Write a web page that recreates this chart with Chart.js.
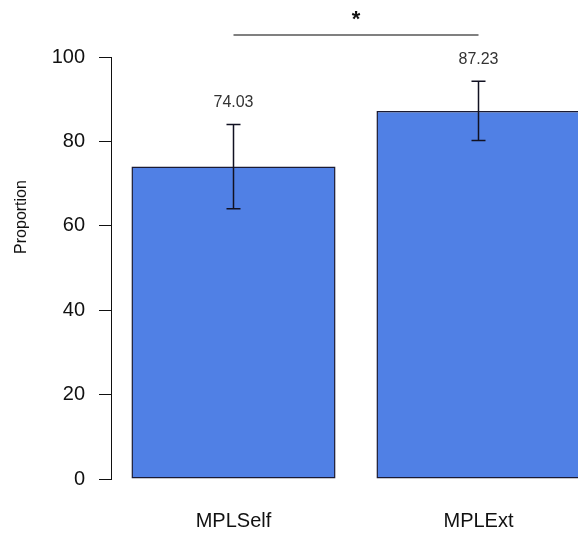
<!DOCTYPE html>
<html>
<head>
<meta charset="utf-8">
<script src="https://cdn.jsdelivr.net/npm/chart.js@4"></script>
<style>
  html, body { margin: 0; padding: 0; background: #fff; overflow: hidden; width: 578px; height: 536px; }
  canvas { display: block; }
</style>
</head>
<body>
<canvas id="c" width="620" height="536"></canvas>
<script>
// Mean proportion per condition with error half-widths
const categories = ['MPLSelf', 'MPLExt'];
const proportions = [74.03, 87.23];
const errors = [10.0, 7.0];
const yTicks = [0, 20, 40, 60, 80, 100];
const yTitle = 'Proportion';
const sigMark = '*';
const sigLevel = 105.2; // height of the comparison bracket, in axis units

const FONT = '"Liberation Sans", Arial, Helvetica, sans-serif';

const extras = {
  id: 'extras',
  afterDatasetsDraw(chart) {
    const ctx = chart.ctx;
    const y = chart.scales.y;
    const bars = chart.getDatasetMeta(0).data;
    ctx.save();
    // error bars
    ctx.strokeStyle = '#111122';
    ctx.lineWidth = 1.5;
    bars.forEach((bar, i) => {
      const top = y.getPixelForValue(proportions[i] + errors[i]);
      const bot = y.getPixelForValue(proportions[i] - errors[i]);
      ctx.beginPath();
      ctx.moveTo(bar.x, top); ctx.lineTo(bar.x, bot);
      ctx.moveTo(bar.x - 7, top); ctx.lineTo(bar.x + 7, top);
      ctx.moveTo(bar.x - 7, bot); ctx.lineTo(bar.x + 7, bot);
      ctx.stroke();
      // value label
      ctx.fillStyle = '#333';
      ctx.font = '16px ' + FONT;
      ctx.textAlign = 'center';
      ctx.textBaseline = 'middle';
      ctx.fillText(proportions[i].toFixed(2), bar.x, top - 22);
    });
    // comparison bracket
    const sy = y.getPixelForValue(sigLevel);
    ctx.strokeStyle = '#808080';
    ctx.lineWidth = 2;
    ctx.beginPath();
    ctx.moveTo(bars[0].x, sy); ctx.lineTo(bars[1].x, sy);
    ctx.stroke();
    ctx.fillStyle = '#111';
    ctx.font = 'bold 22px ' + FONT;
    ctx.textAlign = 'center';
    ctx.textBaseline = 'middle';
    ctx.fillText(sigMark, (bars[0].x + bars[1].x) / 2, sy - 15);
    // y axis title
    ctx.save();
    ctx.translate(22, 217);
    ctx.rotate(-Math.PI / 2);
    ctx.font = '16px ' + FONT;
    ctx.fillStyle = '#111';
    ctx.fillText(yTitle, 0, 0);
    ctx.restore();
    ctx.restore();
  }
};

new Chart(document.getElementById('c'), {
  type: 'bar',
  data: {
    labels: categories,
    datasets: [{
      data: proportions,
      backgroundColor: '#5080E5',
      borderColor: '#1a1a33',
      borderWidth: 1.5,
      borderSkipped: false,
      barPercentage: 0.833,
      categoryPercentage: 1.0
    }]
  },
  options: {
    responsive: false,
    devicePixelRatio: 1,
    animation: false,
    layout: { padding: { top: 57, right: 19, bottom: 0, left: 0 } },
    plugins: { legend: { display: false }, tooltip: { enabled: false } },
    scales: {
      x: {
        grid: { display: false, drawTicks: false },
        border: { display: false },
        ticks: { padding: 30, color: '#111', font: { family: FONT, size: 20 } },
        afterFit(scale) { scale.height = 57; }
      },
      y: {
        min: 0,
        max: 100,
        afterBuildTicks(scale) { scale.ticks = yTicks.map(v => ({ value: v })); },
        grid: { drawOnChartArea: false, drawTicks: true, tickLength: 12, color: '#111', lineWidth: 1 },
        border: { display: true, color: '#111', width: 1 },
        ticks: { padding: 14, color: '#111', font: { family: FONT, size: 20 } },
        afterFit(scale) { scale.width = 111; }
      }
    }
  },
  plugins: [extras]
});
</script>
</body>
</html>
